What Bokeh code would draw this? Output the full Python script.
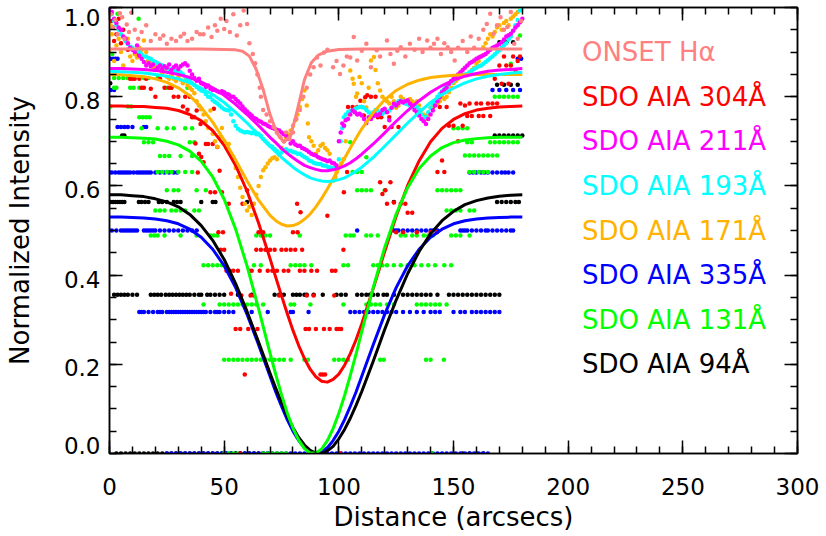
from bokeh.plotting import figure
from bokeh.models import Range1d, LinearAxis, FixedTicker, CustomJSTickFormatter
from bokeh.core.properties import value
from bokeh.embed import file_html
from bokeh.resources import INLINE

# ---------------- data ----------------
labels = ["ONSET H\u03b1", "SDO AIA 304\u00c5", "SDO AIA 211\u00c5", "SDO AIA 193\u00c5",
          "SDO AIA 171\u00c5", "SDO AIA 335\u00c5", "SDO AIA 131\u00c5", "SDO AIA 94\u00c5"]
colors = ["#ff8080", "#ff0000", "#ff00ff", "#00ffff", "#ffb300", "#0000ff", "#00ff00", "#000000"]

x_ticks = [0, 50, 100, 150, 200, 250, 300]
y_ticks = [0.0, 0.2, 0.4, 0.6, 0.8, 1.0]
y_tick_labels = ["0.0", "0.2", "0.4", "0.6", "0.8", "1.0"]

# Gaussian-fit curves
fit_x = [0, 5, 10, 15, 20, 25, 30, 35, 40, 45, 50, 55, 60, 65, 70,
         72.5, 75, 77.5, 80, 82.5, 85, 87.5, 90, 92.5, 95, 97.5, 100, 102.5, 105, 107.5, 110,
         115, 120, 125, 130, 135, 140, 145, 150, 155, 160, 165, 170, 175, 180]
fit_304 = [.779, .779, .778, .778, .776, .774, .769, .760, .746, .724, .691, .646, .588, .517, .437,
           .395, .354, .314, .276, .242, .213, .189, .172, .162, .160, .166, .178, .198, .224, .255, .291,
           .370, .453, .532, .601, .656, .699, .729, .749, .762, .770, .774, .777, .778, .779]
fit_211 = [.863, .863, .862, .861, .859, .855, .850, .843, .833, .820, .803, .783, .760, .735, .709,
           .697, .684, .673, .663, .654, .646, .641, .637, .634, .634, .636, .640, .645, .652, .661, .671,
           .694, .719, .745, .769, .791, .810, .825, .837, .846, .852, .857, .860, .861, .863]
fit_193 = [.857, .856, .855, .853, .850, .846, .840, .831, .819, .805, .787, .765, .741, .715, .689,
           .676, .664, .653, .642, .633, .625, .618, .614, .611, .610, .611, .614, .618, .625, .633, .642,
           .664, .689, .715, .741, .765, .787, .805, .819, .831, .840, .846, .850, .853, .855]
fit_171 = [.849, .849, .847, .845, .840, .832, .820, .802, .776, .743, .703, .658, .611, .568, .534,
           .522, .514, .510, .511, .516, .525, .537, .553, .572, .593, .616, .639, .662, .685, .707, .728,
           .764, .793, .814, .828, .837, .843, .846, .848, .849, .850, .850, .850, .850, .850]
fit_335 = [.530, .530, .529, .528, .526, .522, .515, .503, .485, .458, .421, .372, .312, .244, .173,
           .138, .106, .076, .050, .029, .013, .003, .000, .003, .013, .029, .050, .076, .106, .138, .173,
           .244, .312, .372, .421, .458, .485, .503, .515, .522, .526, .528, .529, .530, .530]
fit_131 = [.709, .709, .708, .707, .705, .700, .692, .678, .655, .620, .570, .503, .420, .325, .225,
           .177, .132, .091, .057, .030, .011, .001, .001, .010, .029, .056, .090, .130, .175, .223, .273,
           .372, .462, .537, .596, .639, .667, .686, .697, .703, .706, .708, .709, .709, .709]
fit_94 = [.580, .580, .578, .576, .571, .564, .553, .536, .511, .478, .435, .381, .318, .250, .180,
          .146, .114, .084, .058, .036, .019, .007, .001, .000, .006, .016, .033, .054, .079, .108, .139,
          .207, .278, .344, .403, .453, .493, .522, .543, .558, .567, .573, .577, .579, .580]
fit_ha_x = [0, 10, 20, 30, 40, 50, 55, 58, 61, 64, 67, 70, 73, 76, 79, 82, 85, 88, 91, 95, 100,
            110, 120, 130, 140, 150, 160, 170, 180]
fit_ha = [.907, .907, .907, .907, .907, .906, .905, .902, .891, .861, .816, .760, .718, .698, .712, .772, .838, .876, .893,
          .902, .906, .907, .907, .907, .907, .907, .907, .907, .907]

# Observed points (x arcsec, normalized intensity)
pts_ha = [(0.5,.985),(1.5,.955),(2.5,.972),(3.5,.94),(4.5,.987),(5.5,.978),(6.5,.93),(7.5,.962),(8.5,.945),(9.5,.988),
          (11,.95),(12.5,.93),(14,.945),(16,.96),(18,.925),(20,.94),(22,.93),(23.5,.937),(25,.919),(27,.93),(29,.925),
          (31,.935),(32.5,.941),(34,.925),(36,.93),(38,.945),(39.5,.94),(41,.94),(43,.955),(44.5,.934),(46,.96),(47,.948),
          (48.5,.975),(50,.952),(51,.97),(52.5,.945),(54,.985),(55.5,.937),(57,.96),(58.5,.993),(60,.963),(61,.92),
          (62.5,.896),(63.5,.875),(64.5,.85),(65.5,.82),(66,.80),(67,.77),(68.5,.76),(70,.745),(71.5,.732),(73,.72),
          (74.5,.709),(76,.70),(77,.72),(78.5,.705),(80,.72),(81.5,.75),(83,.77),(84.5,.80),(86,.82),(87.5,.85),(89,.866),
          (90.5,.888),(92,.87),(93.5,.899),(95,.905),(97.5,.866),(99,.88),(100.5,.851),(102,.87),(103.5,.89),(105,.888),
          (106.5,.934),(108,.881),(110,.903),(112,.919),(114,.866),(116.5,.904),(118,.89),(121,.926),(122.5,.896),
          (124,.874),(125.5,.903),(127,.911),(129,.89),(131,.919),(133,.905),(135,.93),(136.5,.90),(138.5,.926),(140,.91),
          (141.5,.919),(143,.93),(144.5,.896),(146,.92),(147.5,.911),(149,.9),(150.5,.881),(152,.91),(154,.925),(156,.9),
          (157.5,.935),(159,.91),(161,.93),(163,.95),(164.5,.963),(166,.986),(167.5,.941),(169,.96),(170.5,.978),(172,.95),
          (173.5,.956),(175,.99),(176.5,.919),(178,.93),(179.5,.97)]

pts_304 = [(0.5,.99),(1,.97),(1.5,.955),(2,.925),(3,.94),(4,.975),(5,.92),(6,.95),(7,.93),(8,.905),(9,.84),(10,.84),(11,.84),
           (12,.896),(13,.84),(14,.82),(15,.82),(16,.84),(17,.88),(18,.818),(20,.80),(22,.84),(24,.82),(26,.82),(27,.82),
           (28,.80),(30,.80),(32,.778),(33,.80),(34,.771),(35,.80),(36,.754),(37,.754),(37.5,.695),(38,.769),(38.5,.63),
           (39,.672),(39.7,.739),(40,.665),(41,.653),(42,.694),(43,.694),(44,.586),(45,.694),(45.5,.773),(46,.586),(47,.687),
           (47.5,.496),(48,.634),(48.5,.457),(49,.586),(49.5,.496),(50,.457),(51,.41),(52,.56),(52.5,.41),(53,.358),(54,.41),
           (55,.279),(56,.41),(57,.279),(57.5,.354),(58,.56),(59,.177),(60,.59),(60.5,.279),(61,.41),(61.5,.354),(62,.41),
           (63,.354),(64,.457),(64.5,.279),(65,.496),(65.5,.41),(66,.457),(67,.496),(68,.457),(69,.41),(70,.457),(71,.41),
           (72,.457),(73,.41),(74,.354),(75,.457),(76,.41),(77,.457),(78,.41),(79,.457),(80,.496),(81,.457),(81.8,.56),
           (82,.496),(83,.41),(83.3,.541),(84,.457),(85,.41),(85.5,.279),(86,.354),(87,.279),(88,.41),(89,.354),(90,.279),
           (90.5,.41),(92,.177),(93,.177),(93.5,.279),(94,.177),(95,.533),(96,.279),(97,.41),(98,.354),(98.5,.41),(99,.279),
           (100,.279),(101,.279),(102,.457),(102.2,.586),(103.6,.631),(104,.777),(106,.777),(108,.777),(109.4,.791),
           (110,.777),(110.9,.758),(111.5,.799),(112.4,.803),(114,.80),(116,.80),(117,.754),(118,.608),(118.5,.754),
           (119,.582),(120,.732),(120.3,.59),(121,.56),(122,.754),(122.5,.608),(123,.732),(124,.563),(125,.496),(126,.732),
           (127,.56),(128,.496),(129,.56),(130,.54),(132,.54),(134,.496),(140,.496),(141,.777),(142.8,.496),(143,.631),
           (144,.777),(145,.657),(146,.631),(147,.777),(148,.735),(150,.735),(152,.70),(153,.785),(154,.735),(155,.78),
           (156,.757),(157,.785),(158,.757),(160,.785),(161,.757),(162,.785),(163,.757),(165,.785),(166,.757),(167,.785),
           (168,.84),(169,.785),(170,.87),(171,.829),(172,.89),(173,.87),(174,.829),(175,.87),(176,.89),(177,.86),(178,.88),
           (179,.89),(57,0),(100.7,0)]

pts_211 = [(0,1.0),(1,.99),(2,.975),(3,.965),(4,.955),(5,.95),(6,.935),(7,.93),(8,.92),(9,.91),(10,.905),(11,.90),(12,.915),
           (13,.892),(14,.885),(15,.878),(16,.87),(17,.875),(18,.868),(19,.872),(20,.86),(21,.865),(22,.87),(23,.862),
           (24,.868),(25,.865),(26,.872),(27,.86),(28,.866),(29,.87),(30,.862),(31,.868),(32,.872),(33,.875),(34,.87),
           (35,.858),(36,.85),(37,.842),(38,.836),(39,.84),(40,.83),(41,.828),(42,.822),(43,.825),(44,.818),(45,.815),
           (46,.815),(47,.812),(48,.81),(49,.812),(50,.81),(51,.806),(52,.805),(53,.80),(54,.80),(55,.795),(56,.79),
           (57,.785),(58,.778),(59,.772),(60,.767),(61,.762),(62,.758),(63,.752),(64,.75),(65,.746),(66,.744),(67,.74),
           (68,.738),(69,.735),(70,.732),(71,.73),(72,.728),(73,.726),(74,.724),(75,.72),(76,.716),(77,.713),(78,.705),
           (79,.695),(80,.70),(81,.693),(82,.69),(83,.69),(84,.685),(85,.683),(86,.68),(87,.676),(88,.672),(89,.67),
           (90,.668),(91,.664),(92,.662),(93,.66),(94,.658),(95,.655),(96,.657),(97,.652),(98,.65),(99,.646),(100,.70),
           (100.8,.72),(101.5,.74),(102.3,.735),(103,.747),(104,.75),(105,.76),(106,.769),(107,.765),(108,.76),(109,.762),
           (110,.758),(111,.75),(112,.741),(113,.754),(114,.75),(115,.757),(116,.76),(117,.758),(118,.762),(119,.77),
           (120,.773),(121,.765),(122,.747),(123,.775),(124,.784),(125,.78),(126,.786),(127,.79),(128,.787),(129,.79),
           (130,.792),(131,.785),(132,.78),(133,.77),(134,.765),(135,.758),(136,.75),(137,.745),(138,.739),(139,.75),
           (140,.76),(141,.769),(142,.78),(143,.79),(144,.799),(145,.81),(146,.815),(147,.82),(148,.829),(149,.835),
           (150,.84),(151,.845),(152,.85),(153,.855),(154,.86),(155,.865),(156,.87),(157,.875),(158,.878),(159,.881),
           (160,.885),(161,.888),(162,.89),(163,.893),(164,.896),(165,.9),(166,.905),(167,.91),(168,.912),(169,.915),
           (170,.918),(171,.922),(172,.928),(173,.935),(174,.938),(175,.941),(176,.948),(177,.955),(178,.96),(179,.967),
           (180,.975)]

pts_193 = [(0,1.0),(1,.985),(2,.97),(3,.96),(4,.95),(5,.94),(6,.934),(7,.925),(8,.918),(9,.912),(10,.91),(11,.905),(12,.904),
           (13,.90),(14,.895),(15,.89),(16,.89),(17,.887),(18,.885),(19,.88),(20,.878),(21,.875),(22,.872),(23,.87),
           (24,.866),(25,.864),(26,.862),(27,.86),(28,.858),(29,.857),(30,.855),(31,.855),(32,.85),(33,.845),(34,.84),
           (35,.836),(36,.83),(37,.826),(38,.822),(39,.818),(40,.814),(41,.812),(42,.806),(43,.80),(44,.799),(45,.792),
           (46,.788),(47,.785),(48,.78),(49,.776),(50,.772),(51,.77),(52,.769),(53,.76),(54,.745),(55,.735),(56,.728),
           (57,.724),(58,.722),(59,.72),(60,.721),(61,.72),(62,.718),(63,.72),(64,.716),(65,.717),(66,.712),(67,.705),
           (68,.70),(69,.695),(70,.69),(71,.688),(72,.683),(73,.678),(74,.672),(75,.675),(76,.68),(77,.682),(78,.679),
           (79,.679),(80,.676),(81,.675),(82,.672),(83,.672),(84,.668),(85,.665),(86,.662),(87,.657),(88,.655),(89,.652),
           (90,.65),(91,.649),(92,.649),(93,.646),(94,.645),(95,.643),(96,.642),(97,.64),(98,.64),(99,.638),(100,.66),
           (100.8,.70),(101.5,.73),(102.2,.754),(103,.76),(104,.765),(105,.768),(106,.769),(107,.772),(108,.775),
           (109,.777),(110,.777),(111,.775),(112,.77),(113,.765),(114,.762),(115,.765),(116,.77),(117,.768),(118,.765),
           (119,.762),(120,.765),(121,.768),(122,.769),(123,.775),(124,.78),(125,.785),(126,.79),(127,.791),(128,.788),
           (129,.785),(130,.783),(131,.78),(132,.778),(133,.777),(134,.777),(135,.77),(136,.76),(137,.75),(138,.755),
           (139,.765),(140,.775),(141,.785),(142,.79),(143,.8),(144,.806),(145,.812),(146,.818),(147,.822),(148,.828),
           (149,.832),(150,.836),(151,.84),(152,.842),(153,.845),(154,.848),(155,.85),(156,.851),(157,.855),(158,.858),
           (159,.862),(160,.865),(161,.868),(162,.87),(163,.874),(164,.878),(165,.882),(166,.886),(167,.89),(168,.895),
           (169,.9),(170,.904),(171,.91),(172,.915),(173,.92),(174,.928),(175,.935),(176,.948),(177,.96),(178,.972),
           (179,.993),(180,1.0)]

pts_171 = [(0,.905),(0.5,.96),(1,.94),(2,.88),(3,.915),(4,.93),(5,.90),(6,.87),(7,.925),(8,.93),(9,.89),(10,.88),(11,.895),
           (12,.888),(13,.91),(14,.905),(15,.926),(16,.90),(17,.88),(18,.874),(19,.865),(20,.87),(21,.874),(22,.86),
           (23,.852),(24,.858),(25,.845),(26,.84),(27,.848),(28,.84),(29,.835),(30,.845),(31,.838),(32,.83),(33,.836),
           (34,.826),(35,.82),(36,.815),(37,.808),(38,.79),(39,.78),(40,.772),(41,.76),(42,.745),(43,.73),(44,.769),
           (45,.717),(46,.70),(47,.688),(48,.71),(49,.73),(50,.70),(51,.685),(52,.694),(53,.672),(54,.664),(55,.64),
           (56,.62),(57,.596),(58,.575),(59,.56),(60,.545),(61,.553),(62,.535),(63,.56),(64,.58),(65,.60),(66,.62),
           (67,.635),(68,.642),(69,.65),(70,.657),(71,.662),(72,.664),(73,.66),(74,.67),(75,.685),(76,.70),(77,.709),
           (78,.715),(79,.724),(80,.735),(81,.747),(82,.76),(83,.777),(84,.795),(85,.814),(86,.78),(86.5,.74),(87,.709),
           (88,.70),(89,.69),(90,.672),(91,.68),(92,.69),(93,.694),(94,.685),(95,.68),(96,.672),(97,.64),(97.8,.612),
           (98.5,.62),(99,.63),(100,.642),(101,.65),(102,.66),(103,.70),(104,.76),(105,.859),(106,.84),(106.5,.829),
           (107.5,.80),(108,.807),(109,.844),(110,.83),(111,.79),(112,.776),(113,.82),(114,.881),(115.3,.889),(116,.86),
           (117,.83),(118,.814),(119,.80),(120,.795),(121,.79),(122,.785),(123,.80),(124,.79),(125,.775),(126,.78),
           (127,.80),(128,.795),(129,.79),(130,.785),(131,.795),(132,.79),(133,.785),(134,.79),(135,.78),(136,.77),
           (137,.76),(138,.75),(139,.76),(140,.775),(141,.78),(142,.79),(143,.785),(144,.79),(145,.8),(146,.795),(147,.80),
           (148,.81),(149,.82),(150,.83),(151,.835),(152,.84),(153,.845),(154,.85),(155,.848),(156,.85),(157,.855),
           (158,.86),(159,.865),(160,.874),(161,.88),(162,.89),(163,.911),(164,.92),(165,.93),(166,.94),(167,.935),
           (168,.945),(169,.955),(170,.96),(171,.95),(172,.965),(173,.97),(174,.96),(175,.975),(176,.98),(177,.985),
           (178,.99),(179,1.0)]

pts_335 = [(0,1.0),(0.5,.885),(1.5,.885),(2.5,.885),(3.5,.885),(0.5,.815),(2,.815),
           (3.5,.732),(5,.732),(6.5,.732),(8,.732),(10,.732),(15,.732),(16,.732),
           (0,.63),(1,.63),(2.5,.63),(4,.63),(5,.63),(6,.63),(7,.63),(8,.63),(9,.63),(10.5,.63),(12,.63),(13,.63),
           (14,.63),(15,.63),(16,.63),(17,.63),(18,.63),(20,.63),(22,.63),(24,.63),(26,.63),(28,.63),(29.5,.63),
           (157,.63),(158.5,.63),(160,.63),(162,.63),(163.5,.63),(165,.63),(167,.63),(169,.63),(171,.63),(172.5,.63),
           (174,.63),(176,.63),
           (1,.50),(3,.50),(5,.50),(6,.50),(7,.50),(8,.50),(9,.50),(10,.50),(11,.50),(12,.50),(15,.50),(16,.50),(17,.50),
           (18,.50),(19,.50),(20,.50),(22,.50),(24,.50),(26,.50),(28,.50),(30,.50),(32,.50),(34,.50),(36,.50),(38,.50),
           (108,.50),(124,.50),(125,.50),(126,.50),(128,.50),(130,.50),(132,.50),(134,.50),(136,.50),(138,.50),(140,.50),
           (141,.50),(143,.50),(153,.50),(154,.50),(155,.50),(156,.50),(158,.50),(160,.50),(162,.50),(164,.50),(165,.50),
           (167,.50),(169,.50),(171,.50),(173,.50),(175,.50),(176,.50),
           (13,.317),(14,.317),(15,.317),(17,.317),(19,.317),(21,.317),(22,.317),(23,.317),(25,.317),(26,.317),(27,.317),
           (28,.317),(29,.317),(30,.317),(31,.317),(32,.317),(33,.317),(34,.317),(35,.317),(36,.317),(37,.317),(38,.317),
           (39,.317),(40,.317),(41,.317),(42,.317),(44,.317),(46,.317),(47,.317),(48,.317),(50,.317),(52,.317),(54,.317),
           (62,.317),(69,.317),(79,.317),(80,.317),(86.8,.317),(105,.317),(107,.317),(109,.317),(111,.317),(113,.317),
           (115,.317),(117,.317),(119,.317),(121,.317),(123,.317),(125,.317),(128,.317),(131,.317),(134,.317),(137,.317),
           (140,.317),(142,.317),(144,.317),(150,.317),(153,.317),(155,.317),(158,.317),(160,.317),(162,.317),(164,.317),
           (166,.317),(168,.317),(170,.317),
           (167,.815),(170,.815),(173,.815),(176,.815),(179,.815),(178,.885),(179.5,.885),
           (25,0),(27,0),(29,0),(31,0),(33,0),(35,0),(37,0),(39,0),(41,0),(43,0),(45,0),(47,0),(49,0),(51,0),(53,0),(55,0),
           (57,0),(59,0),(61,0),(63,0),(65,0),(67,0),(69,0),(71,0),(73,0),(75,0),(77,0),(79,0),(81,0),(83,0),(85,0),(87,0),
           (89,0),(91,0),(93,0),(95,0),(97,0),(99,0),(101,0),(103,0),(105,0),(107,0),(109,0),(111,0),(113,0),(115,0),
           (117,0),(119,0),(121,0),(123,0),(125,0),(127,0),(129,0),(131,0),(133,0),(135,0),(137,0),(139,0),(141,0),
           (143,0),(145,0),(147,0),(149,0),(151,0),(153,0),(155,0),(157,0),(159,0),(161,0),(163,0),(165,0)]

pts_131 = [(3.5,.986),(12.7,.975),(1.2,.896),(2,.842),(4,.842),(6,.842),(8,.842),(10,.842),(15,.842),(17,.842),(21,.842),
           (2,.82),(3,.82),(9,.82),(10.5,.82),(13,.82),(25,.82),(27,.82),(34,.82),(0.4,.778),(8,.778),(9.5,.778),
           (13,.754),(14.5,.754),(16,.754),(17.5,.754),(14,.729),(21,.729),(25,.729),(28,.729),(33,.729),(36,.729),
           (15,.698),(17,.698),(19,.698),(35,.698),(37,.698),(22,.667),(24,.667),(26,.667),(31,.667),(36,.667),
           (21,.631),(23,.631),(25,.631),(27,.631),(30,.631),(33,.631),(36,.631),(25,.59),(28,.59),(30,.59),(38,.59),
           (42,.59),(20,.545),(22,.545),(24,.545),(27,.545),(29,.545),(31,.545),(33,.545),(37,.545),(39,.545),
           (18,.489),(19.5,.489),(21,.489),(24,.489),(31,.489),(38,.489),(44,.489),(45.5,.489),(47,.489),(64,.489),
           (66,.489),(68,.489),(70,.489),(83,.489),(103,.489),(105,.489),(106.5,.489),(112,.489),(114,.489),(117,.489),
           (127,.489),(129,.489),(132,.489),(134,.489),(137,.489),(139,.489),(141,.489),(149,.489),(151,.489),(153,.489),
           (157,.489),
           (41,.422),(43,.422),(45,.422),(47,.422),(49,.422),(63,.422),(66,.422),(79,.422),(81,.422),(83,.422),(85,.422),
           (88,.422),(102,.422),(104,.422),(115,.422),(117,.422),(119,.422),(121,.422),(124,.422),(127,.422),(130,.422),
           (133,.422),(136,.422),(139,.422),(142,.422),(146,.422),(149,.422),
           (41,.334),(48,.334),(50,.334),(52,.334),(54,.334),(56,.334),(58,.334),(60,.334),(62,.334),(64,.334),(67,.334),
           (79,.334),(80.5,.334),(87.6,.334),(102,.334),(112,.334),(114,.334),(116,.334),(118,.334),(121,.334),(124,.334),
           (134,.334),(136,.334),(138,.334),(140,.334),(142,.334),(144,.334),(147,.334),
           (50,.21),(52,.21),(54,.21),(56,.21),(58,.21),(60,.21),(62,.21),(64,.21),(66,.21),(68,.21),(70,.21),(72,.21),
           (74,.21),(76,.21),(79,.21),(85,.21),(86.5,.21),(98,.21),(100,.21),(102,.21),(104,.21),(118,.21),(119.6,.21),
           (138,.21),(140,.21),(145.8,.21),
           (143,.59),(145,.59),(147,.59),(149,.59),(151,.59),(153,.59),(108,.59),(110,.59),(112,.59),(114,.59),(120,.59),
           (147,.545),(149,.545),(151,.545),(153,.545),(157,.545),(159,.545),(157,.631),(159,.631),(161,.631),(163,.631),
           (165,.631),(106,.631),(108,.631),(110,.631),(112,.664),(155,.668),(157,.668),(159,.668),(161,.668),(163,.668),
           (165,.668),(167,.668),(169,.668),(105,.698),(156,.698),(158,.698),(166,.698),(168,.698),(170,.698),(172,.698),
           (174,.698),(176,.698),(178,.698),(150,.729),(152,.729),(154,.729),(156,.729),(168,.80),(170,.80),(172,.80),
           (174,.80),(176,.80),(178,.80),(175,.874),(179,.937),
           (50,0),(52,0),(54,0),(56,0),(67,0),(69,0),(71,0),(73,0),(75,0),(77,0),(140.7,0)]

pts_94 = [(0.3,.83),(5.5,.713),(6.5,.713),
          (0.5,.564),(1.5,.564),(2.5,.564),(3.5,.564),(4.5,.564),(5.5,.564),(6.5,.564),(12.8,.564),(14,.564),(15.5,.564),
          (17,.564),(21.5,.564),(23,.564),(25,.564),(28,.564),(29.5,.564),(31,.564),(40,.564),(45,.564),(46.2,.564),
          (60,.564),(124,.564),(169,.564),(171,.564),(173,.564),(175,.564),(177,.564),(178.5,.564),
          (168,.713),(170,.713),(172,.713),(174,.713),(176,.713),(178,.713),(180,.713),(169,.827),(172,.827),(175,.827),
          (178,.827),(170,.922),(173,.922),(176,.922),
          (2,.356),(3.5,.356),(5,.356),(6.5,.356),(8,.356),(10,.356),(12,.356),(18,.356),(19.5,.356),(21,.356),(22.5,.356),
          (24.5,.356),(26,.356),(27.5,.356),(29,.356),(30.5,.356),(32,.356),(33.5,.356),(35,.356),(37,.356),(39,.356),
          (40,.356),(42.6,.356),(44,.356),(46,.356),(48,.356),(50,.356),(56,.356),(62,.356),(63,.356),(72,.356),(74,.356),
          (76,.356),(80,.356),(81.5,.356),(83,.356),(85,.356),(86,.356),(89,.356),(93,.356),(99,.356),(101,.356),
          (103,.356),(108,.356),(110,.356),(112,.356),(113.5,.356),(115,.356),(117,.356),(119.5,.356),(121,.356),
          (124,.356),(128,.356),(130,.356),(132,.356),(134,.356),(136,.356),(138,.356),(140,.356),(143,.356),(148,.356),
          (150,.356),(152,.356),(154,.356),(156,.356),(158,.356),(160,.356),(162,.356),(164,.356),(166,.356),(168,.356),
          (170,.356),
          (3,0),(5,0),(7,0),(9,0),(11,0),(13,0),(15,0),(17,0),(19,0),(21,0),(23,0),(25,0),(27,0),(29,0),(31,0),(33,0),
          (35,0),(37,0),(39,0),(41,0),(43,0),(45,0),(47,0),(49,0),(51,0),(53,0),(55,0),(57,0),(59,0),(61,0),(63,0),
          (65,0),(67,0),(69,0),(154,0),(157,0),(160,0),(163,0)]

# ---------------- figure ----------------
FONT = "DejaVu Sans"

p = figure(width=826, height=536, x_range=Range1d(0, 300), y_range=Range1d(0, 1.0),
           output_backend="svg", toolbar_location=None,
           min_border_left=109, min_border_right=29, min_border_top=7, min_border_bottom=83)
p.xgrid.visible = False
p.ygrid.visible = False
p.outline_line_color = "black"
p.outline_line_width = 1.5
p.background_fill_color = "white"
p.border_fill_color = "white"

x_minor = [v for v in range(0, 301, 10)]
y_minor = [round(i * 0.05, 2) for i in range(0, 21)]

def style(ax, show_labels):
    ax.axis_line_color = "black"
    ax.axis_line_width = 1.5
    ax.major_tick_line_color = "black"
    ax.minor_tick_line_color = "black"
    ax.major_tick_line_width = 1.5
    ax.minor_tick_line_width = 1.5
    ax.major_tick_in = 13
    ax.major_tick_out = 0
    ax.minor_tick_in = 7
    ax.minor_tick_out = 0
    if show_labels:
        ax.major_label_text_font = FONT
        ax.major_label_text_font_size = "23px"
        ax.major_label_text_color = "black"
        ax.axis_label_text_font = FONT
        ax.axis_label_text_font_size = "26px"
        ax.axis_label_text_font_style = "normal"
        ax.axis_label_text_color = "black"
    else:
        ax.axis_label_standoff = 0
        ax.formatter = CustomJSTickFormatter(code="return ''")
        ax.major_label_text_font_size = "0px"
        ax.major_label_standoff = 0

xa = p.xaxis[0]
xa.ticker = FixedTicker(ticks=x_ticks, minor_ticks=x_minor)
xa.axis_label = "Distance (arcsecs)"
style(xa, True)
xa.major_label_standoff = 24
xa.axis_label_standoff = 4

# main left axis: ticks only
ya = p.yaxis[0]
ya.ticker = FixedTicker(ticks=y_ticks, minor_ticks=y_minor)
style(ya, False)

# label axis: places the y tick labels where the reference prints them
# (slightly below each tick, end labels kept inside the frame)
y_label_pos = [0.018, 0.192, 0.391, 0.593, 0.791, 0.978]
lab = LinearAxis(ticker=FixedTicker(ticks=y_label_pos, minor_ticks=[]),
                 major_label_overrides={pos: txt for pos, txt in zip(y_label_pos, y_tick_labels)})
lab.axis_line_color = None
lab.major_tick_line_color = None
lab.minor_tick_line_color = None
lab.major_tick_in = 0
lab.major_tick_out = 0
lab.major_label_standoff = 9
lab.major_label_text_font = FONT
lab.major_label_text_font_size = "23px"
lab.major_label_text_color = "black"
lab.axis_label = "Normalized Intensity"
lab.axis_label_text_font = FONT
lab.axis_label_text_font_size = "26px"
lab.axis_label_text_font_style = "normal"
lab.axis_label_text_color = "black"
lab.axis_label_standoff = 26
p.add_layout(lab, "left")

top = LinearAxis(ticker=FixedTicker(ticks=x_ticks, minor_ticks=x_minor))
style(top, False)
p.add_layout(top, "above")
right = LinearAxis(ticker=FixedTicker(ticks=y_ticks, minor_ticks=y_minor))
style(right, False)
p.add_layout(right, "right")

# scatter points (drawn first)
scatter_sets = [(pts_94, colors[7]), (pts_335, colors[5]), (pts_131, colors[6]), (pts_304, colors[1]),
                (pts_171, colors[4]), (pts_193, colors[3]), (pts_211, colors[2]), (pts_ha, colors[0])]
for pts, c in scatter_sets:
    xs = [a for a, b in pts]
    ys = [b for a, b in pts]
    p.scatter(xs, ys, marker="circle", size=4.5, fill_color=c, line_color=None)

# fitted curves
p.line(fit_ha_x, fit_ha, line_color=colors[0], line_width=3, line_join="round")
for ys, c in [(fit_304, colors[1]), (fit_171, colors[4]), (fit_193, colors[3]), (fit_211, colors[2]),
              (fit_335, colors[5]), (fit_94, colors[7]), (fit_131, colors[6])]:
    p.line(fit_x, ys, line_color=c, line_width=3, line_join="round")

# legend texts
leg_y = [0.9 - 0.1 * i for i in range(len(labels))]
p.text(x=[206] * len(labels), y=leg_y, text=labels, text_color=colors,
       text_font=value(FONT), text_font_size="26px", text_baseline="alphabetic", text_align="left")

open("out.html", "w").write(file_html(p, INLINE))
